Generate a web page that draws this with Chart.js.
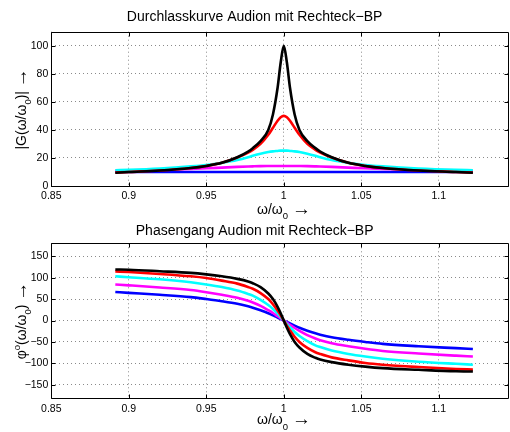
<!DOCTYPE html>
<html><head><meta charset="utf-8">
<script src="https://cdn.jsdelivr.net/npm/chart.js@4"></script>
<style>
html,body{margin:0;padding:0;background:#fff;overflow:hidden;width:510px;height:432px;position:relative;}
#c1{position:absolute;left:0;top:0;}
#c2{position:absolute;left:0;top:216px;}
</style></head><body>
<canvas id="c1" width="568" height="224"></canvas>
<canvas id="c2" width="568" height="216"></canvas>
<script>
// normalized frequency omega/omega0
const freq = [0.8913, 0.9, 0.92, 0.94, 0.95, 0.96, 0.97, 0.977, 0.98, 0.985, 0.99, 0.993, 0.996, 0.998, 1, 1.002, 1.004, 1.007, 1.0101, 1.0152, 1.0204, 1.0235, 1.0309, 1.0417, 1.0526, 1.0638, 1.087, 1.1111, 1.122];

// |G| magnitude curves
const magBlack   = [9.5, 10, 11, 12.8, 14.3, 16.5, 20.5, 24.5, 27, 32, 40, 51, 70, 88, 100, 88, 70, 51, 40, 32, 27, 24.5, 20.5, 16.5, 14.3, 12.8, 11, 10, 9.5];
const magRed     = [9.6, 10, 11, 12.8, 14.3, 16.5, 20.3, 23.8, 25.8, 30, 36.5, 41.5, 46.5, 49, 50, 49, 46.5, 41.5, 36.5, 30, 25.8, 23.8, 20.3, 16.5, 14.3, 12.8, 11, 10, 9.6];
const magCyan    = [11.2, 11.5, 12.5, 14, 15, 16.5, 18.5, 20.5, 21.5, 23, 24.2, 24.7, 25, 25.2, 25.2, 25.2, 25, 24.7, 24.2, 23, 21.5, 20.5, 18.5, 16.5, 15, 14, 12.5, 11.5, 11.2];
const magMagenta = [10.9, 11.1, 11.6, 12.2, 12.6, 13.1, 13.6, 13.9, 14, 14.15, 14.25, 14.3, 14.3, 14.3, 14.3, 14.3, 14.3, 14.3, 14.25, 14.15, 14, 13.9, 13.6, 13.1, 12.6, 12.2, 11.6, 11.1, 10.9];
const magBlue    = [10, 10, 10, 10, 10, 10, 10, 10, 10, 10, 10, 10, 10, 10, 10, 10, 10, 10, 10, 10, 10, 10, 10, 10, 10, 10, 10, 10, 10];

// phase curves (degrees)
const phaseBlack   = [119, 118.5, 115, 111, 107.5, 103, 97, 91, 87, 78, 63, 50, 32, 17, 0, -17, -32, -50, -63, -78, -87, -91, -97, -103, -107.5, -111, -115, -118.5, -119];
const phaseRed     = [114.5, 113, 108.5, 103, 99, 93, 86, 78, 74, 64, 50, 38, 23, 12, 0, -12, -23, -38, -50, -64, -74, -78, -86, -93, -99, -103, -108.5, -113, -114.5];
const phaseCyan    = [103, 101, 96, 89, 84, 78, 70, 62, 58, 48, 36, 27, 16, 8, 0, -8, -16, -27, -36, -48, -58, -62, -70, -78, -84, -89, -96, -101, -103];
const phaseMagenta = [84, 82, 77, 71, 66, 60, 53, 46, 42, 34, 24, 17.5, 10, 5, 0, -5, -10, -17.5, -24, -34, -42, -46, -53, -60, -66, -71, -77, -82, -84];
const phaseBlue    = [66.5, 64.5, 60, 54.5, 50, 45, 39, 33, 30, 24, 17, 12, 7, 3.5, 0, -3.5, -7, -12, -17, -24, -30, -33, -39, -45, -50, -54.5, -60, -64.5, -66.5];

// ticks
const xTicks = [0.85, 0.9, 0.95, 1, 1.05, 1.1];
const xTickLabels = ['0.85', '0.9', '0.95', '1', '1.05', '1.1'];
const magTicks = [0, 20, 40, 60, 80, 100];
const magTickLabels = ['0', '20', '40', '60', '80', '100'];
const phaseTicks = [-150, -100, -50, 0, 50, 100, 150];
const phaseTickLabels = ['\u2212150', '\u2212100', '\u221250', '0', '50', '100', '150'];

const FONT = "'Liberation Sans', Arial, Helvetica, sans-serif";
const seriesColors = ['#000000', '#ff0000', '#00ffff', '#ff00ff', '#0000ff'];

// axis label pieces: [text, font size, vertical shift]
const xLabelParts = [['ω/ω', 14, 0], ['0', 9.5, 5.5], [' ', 14, 0], ['\u2192', 19, 1.2]];
const magLabelParts = [['|G(ω/ω', 14, 0], ['0', 9.5, 5.5], [')|', 14, 0], [' ', 14, 0], ['\u2192', 19, 1.2]];
const phaseLabelParts = [['φ', 14, 0], ['o', 9.5, -6], ['(ω/ω', 14, 0], ['0', 9.5, 5.5], [')', 14, 0], [' ', 14, 0], ['\u2192', 19, 1.2]];

function mkData(arrs) {
  return arrs.map((arr, i) => ({
    data: arr.map((v, k) => ({x: freq[k], y: v})),
    borderColor: seriesColors[i],
    borderWidth: 2.6,
    pointRadius: 0,
    fill: false,
    cubicInterpolationMode: 'monotone',
    clip: false
  }));
}

const frame = {
  id: 'frame',
  afterDraw(chart) {
    const {ctx, chartArea: a, scales} = chart;
    const L = Math.round(a.left) + 0.5, R = Math.round(a.right) - 0.5;
    const T = Math.round(a.top) + 0.5, B = Math.round(a.bottom) + 0.5;
    ctx.save();
    ctx.strokeStyle = '#000';
    ctx.lineWidth = 1;
    ctx.beginPath();
    ctx.moveTo(L, T); ctx.lineTo(R, T); ctx.lineTo(R, B); ctx.lineTo(L, B); ctx.closePath();
    scales.x.ticks.forEach(t => {
      const p = Math.round(scales.x.getPixelForValue(t.value)) + 0.5;
      ctx.moveTo(p, B); ctx.lineTo(p, B - 4);
      ctx.moveTo(p, T); ctx.lineTo(p, T + 4);
    });
    scales.y.ticks.forEach(t => {
      const p = Math.round(scales.y.getPixelForValue(t.value)) + 0.5;
      ctx.moveTo(L, p); ctx.lineTo(L + 4, p);
      ctx.moveTo(R, p); ctx.lineTo(R - 4, p);
    });
    ctx.stroke();
    ctx.restore();
  }
};

const axisLabels = {
  id: 'axisLabels',
  afterDraw(chart, args, opts) {
    const ctx = chart.ctx, a = chart.chartArea;
    const run = (parts, cx, by) => {
      let w = 0;
      const m = parts.map(p => { ctx.font = p[1] + 'px ' + FONT; const pw = ctx.measureText(p[0]).width; w += pw; return pw; });
      let x = cx - w / 2;
      parts.forEach((p, i) => { ctx.font = p[1] + 'px ' + FONT; ctx.fillText(p[0], x, by + p[2]); x += m[i]; });
    };
    ctx.save();
    ctx.fillStyle = '#000';
    ctx.textBaseline = 'alphabetic';
    ctx.textAlign = 'left';
    run(opts.xParts, opts.xCenter, opts.xBaseline);
    ctx.translate(opts.yBaseline, (a.top + a.bottom) / 2);
    ctx.rotate(-Math.PI / 2);
    run(opts.yParts, 0, 0);
    ctx.restore();
  }
};

function makeChart(id, cfg) {
  return new Chart(document.getElementById(id), {
    type: 'line',
    data: {datasets: mkData(cfg.series)},
    options: {
      responsive: false,
      animation: false,
      events: [],
      layout: {padding: {left: 0, right: 568 - 509.3, top: 0, bottom: 0}},
      plugins: {
        legend: {display: false},
        tooltip: {enabled: false},
        title: {display: true, text: cfg.title, color: '#000', font: {family: FONT, size: 14, weight: 'normal'}, padding: cfg.titlePad},
        axisLabels: {xParts: xLabelParts, xCenter: 284, xBaseline: cfg.xBase, yParts: cfg.yParts, yBaseline: 25.5}
      },
      scales: {
        x: {
          type: 'linear', min: 0.85, max: 1.1455,
          afterBuildTicks: s => { s.ticks = xTicks.map(v => ({value: v})); },
          afterFit: s => { s.height = cfg.xAxisH; },
          ticks: {color: '#000', padding: cfg.xTickPad, font: {family: FONT, size: 10.5}, maxRotation: 0, autoSkip: false,
                  callback: (v, i) => xTickLabels[i]},
          grid: {color: '#8a8a8a', lineWidth: 1, drawTicks: false},
          border: {display: false, dash: [1, 3]}
        },
        y: {
          type: 'linear', min: cfg.ymin, max: cfg.ymax,
          afterBuildTicks: s => { s.ticks = cfg.yTicks.map(v => ({value: v})); },
          afterFit: s => { s.width = 51.3; },
          ticks: {color: '#000', padding: 3, font: {family: FONT, size: 10.5}, autoSkip: false,
                  callback: (v, i) => cfg.yTickLabels[i]},
          grid: {color: '#8a8a8a', lineWidth: 1, drawTicks: false},
          border: {display: false, dash: [1, 3]}
        }
      }
    },
    plugins: [frame, axisLabels]
  });
}

makeChart('c1', {
  series: [magBlack, magRed, magCyan, magMagenta, magBlue],
  title: 'Durchlasskurve Audion mit Rechteck\u2212BP',
  titlePad: {top: 8.6, bottom: 6.3},
  xAxisH: 38, xTickPad: 3.5, xBase: 213.5,
  ymin: 0, ymax: 110, yTicks: magTicks, yTickLabels: magTickLabels,
  yParts: magLabelParts
});

makeChart('c2', {
  series: [phaseBlack, phaseRed, phaseCyan, phaseMagenta, phaseBlue],
  title: 'Phasengang Audion mit Rechteck\u2212BP',
  titlePad: {top: 6.6, bottom: 3.9},
  xAxisH: 34.3, xTickPad: 5, xBase: 208,
  ymin: -180, ymax: 180, yTicks: phaseTicks, yTickLabels: phaseTickLabels,
  yParts: phaseLabelParts
});
</script>
</body></html>
